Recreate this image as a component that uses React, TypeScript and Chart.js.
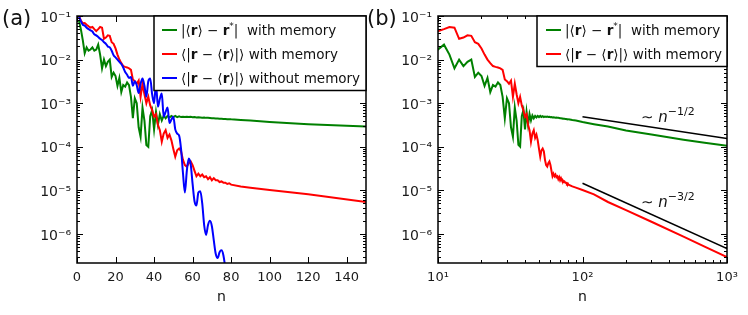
import React, { useEffect, useRef } from 'react';
import { Chart, registerables } from 'chart.js';
Chart.register(...registerables);

// ---------- data ----------
const nValues = [
  1, 2, 3, 4, 5, 6, 7, 8, 9, 10, 11, 12, 13, 14, 15, 16, 17, 18, 19, 20,
  21, 22, 23, 24, 25, 26, 27, 28, 29, 30, 31, 32, 33, 34, 35, 36, 37, 38, 39, 40,
  41, 42, 43, 44, 45, 46, 47, 48, 49, 50, 51, 52, 53, 54, 55, 56, 57, 58, 59, 60,
  61, 62, 63, 64, 65, 66, 67, 68, 69, 70, 71, 72, 73, 74, 75, 76, 77, 78, 79, 80,
  85, 90, 100, 120, 150, 200, 300, 500, 700, 1000,
];

const greenWithMemory = [
  0.079, 0.05, 0.028, 0.014, 0.019, 0.016, 0.017, 0.019, 0.016, 0.017,
  0.022, 0.013, 0.0063, 0.01, 0.0071, 0.0089, 0.01, 0.004, 0.005, 0.0042,
  0.0025, 0.0038, 0.0018, 0.0026, 0.0024, 0.003, 0.0026, 0.0014, 4.5e-4, 1.3e-3,
  1.0e-3, 2.8e-4, 1.7e-4, 7.9e-4, 4.0e-4, 1.1e-4, 1.0e-4, 5.0e-4, 6.9e-4, 2.5e-4,
  6.3e-4, 3.2e-4, 5.6e-4, 4.0e-4, 5.2e-4, 4.5e-4, 5.1e-4, 4.7e-4, 5.1e-4, 4.8e-4,
  5.1e-4, 4.8e-4, 5.0e-4, 4.8e-4, 4.9e-4, 4.8e-4, 4.9e-4, 4.8e-4, 4.85e-4, 4.75e-4,
  4.8e-4, 4.7e-4, 4.75e-4, 4.7e-4, 4.65e-4, 4.7e-4, 4.6e-4, 4.6e-4, 4.55e-4, 4.5e-4,
  4.5e-4, 4.45e-4, 4.45e-4, 4.4e-4, 4.4e-4, 4.35e-4, 4.35e-4, 4.3e-4, 4.3e-4, 4.25e-4,
  4.1e-4, 4.0e-4, 3.7e-4, 3.3e-4, 2.9e-4, 2.35e-4, 1.9e-4, 1.45e-4, 1.23e-4, 1.05e-4,
];

const redWithMemory = [
  0.1, 0.079, 0.068, 0.069, 0.063, 0.058, 0.054, 0.056, 0.05, 0.045,
  0.05, 0.056, 0.054, 0.03, 0.032, 0.036, 0.035, 0.025, 0.023, 0.018,
  0.013, 0.01, 0.0083, 0.0071, 0.0068, 0.0066, 0.0063, 0.0058, 0.0035, 0.0032,
  0.0028, 0.0033, 0.0014, 0.0028, 0.0016, 0.001, 0.0014, 8.9e-4, 6.9e-4, 4.9e-4,
  5.6e-4, 3.2e-4, 2.4e-4, 1.3e-4, 2.0e-4, 2.4e-4, 1.6e-4, 1.9e-4, 1.4e-4, 8.9e-5,
  5.9e-5, 8.3e-5, 9.1e-5, 7.9e-5, 5.0e-5, 3.8e-5, 3.5e-5, 4.2e-5, 4.6e-5, 3.8e-5,
  2.8e-5, 2.1e-5, 2.4e-5, 2.1e-5, 2.3e-5, 2.0e-5, 2.1e-5, 1.8e-5, 2.0e-5, 1.7e-5,
  1.9e-5, 1.7e-5, 1.7e-5, 1.55e-5, 1.6e-5, 1.5e-5, 1.5e-5, 1.4e-5, 1.45e-5, 1.35e-5,
  1.23e-5, 1.15e-5, 1.02e-5, 8.1e-6, 5.4e-6, 3.5e-6, 1.9e-6, 8.7e-7, 5.1e-7, 2.95e-7,
];

const blueWithoutMemory = [
  0.1, 0.076, 0.063, 0.06, 0.054, 0.05, 0.047, 0.044, 0.038, 0.036,
  0.033, 0.03, 0.028, 0.025, 0.023, 0.02, 0.019, 0.016, 0.0126, 0.0112,
  0.01, 0.0089, 0.0079, 0.0066, 0.0052, 0.0045, 0.0038, 0.004, 0.0025, 0.0032,
  0.0026, 0.0017, 0.0028, 0.0037, 0.0025, 0.0014, 0.0032, 0.0037, 0.0016, 0.001,
  0.0028, 8.3e-4, 1.26e-3, 1.66e-3, 4.9e-4, 6.3e-4, 7.9e-4, 3.5e-4, 4.2e-4, 4.9e-4,
  2.5e-4, 2.0e-4, 1.8e-4, 8.9e-5, 2.5e-5, 8.9e-6, 2.8e-5, 5.4e-5, 4.0e-5, 1.4e-5,
  5.6e-6, 4.5e-6, 8.9e-6, 9.5e-6, 5.0e-6, 1.6e-6, 9.5e-7, 1.6e-6, 2.0e-6, 1.5e-6,
  7.1e-7, 3.5e-7, 2.8e-7, 3.8e-7, 4.2e-7, 3.2e-7, 1.6e-7, 6.3e-8,
];

const refN = [100, 1000];
const refHalf = [4.9e-4, 1.55e-4];
const refThreeHalf = [1.45e-5, 4.6e-7];

const yTickValues = [1e-6, 1e-5, 1e-4, 1e-3, 1e-2, 1e-1];
const xTicksA = [0, 20, 40, 60, 80, 100, 120, 140];
const xTicksB = [10, 100, 1000];
const xMinorB = [20, 30, 40, 50, 60, 70, 80, 90, 200, 300, 400, 500, 600, 700, 800, 900];

// ---------- helpers ----------
const FONT = '"DejaVu Sans", sans-serif';
const SUP: Record<string, string> = {
  '-': '⁻', '0': '⁰', '1': '¹', '2': '²', '3': '³', '4': '⁴', '5': '⁵', '6': '⁶', '7': '⁷', '8': '⁸', '9': '⁹',
};
function sciLabel(v: number): string {
  const e = Math.round(Math.log10(v));
  return '10' + String(e).split('').map((c) => SUP[c] || c).join('');
}

type Seg = { t: string; bold?: boolean; italic?: boolean; sup?: boolean };
function drawRich(ctx: CanvasRenderingContext2D, segs: Seg[], x: number, y: number, size: number) {
  let cx = x;
  ctx.textBaseline = 'alphabetic';
  ctx.textAlign = 'left';
  for (const s of segs) {
    const fs = s.sup ? Math.round(size * 0.7) : size;
    ctx.font = `${s.italic ? 'italic ' : ''}${s.bold ? 'bold ' : ''}${fs}px ${FONT}`;
    ctx.fillText(s.t, cx, s.sup ? y - size * 0.45 : y);
    cx += ctx.measureText(s.t).width;
  }
}

const labelGreen: Seg[] = [
  { t: '|⟨' }, { t: 'r', bold: true }, { t: '⟩ − ' }, { t: 'r', bold: true }, { t: '*', sup: true }, { t: '|  with memory' },
];
const labelRed: Seg[] = [
  { t: '⟨|' }, { t: 'r', bold: true }, { t: ' − ⟨' }, { t: 'r', bold: true }, { t: '⟩|⟩ with memory' },
];
const labelBlue: Seg[] = [
  { t: '⟨|' }, { t: 'r', bold: true }, { t: ' − ⟨' }, { t: 'r', bold: true }, { t: '⟩|⟩ without memory' },
];

type PanelCfg = {
  id: string;
  width: number;
  left: number;
  right: number;
  xType: 'linear' | 'logarithmic';
  xMin: number;
  xMax: number;
  xTicks: number[];
  xMinor: number[];
  panelLabel: string;
  panelLabelX: number;
  legend: { x0: number; x1: number; y1: number; lineX0: number; lineX1: number; textX: number; rows: { y: number; color: string; segs: Seg[] }[] };
  annotations: { x: number; y: number; segs: Seg[] }[];
};

function framePlugin(cfg: PanelCfg) {
  return {
    id: 'frame' + cfg.id,
    afterDatasetsDraw(chart: any) {
      const ctx: CanvasRenderingContext2D = chart.ctx;
      const { left, right, top, bottom } = chart.chartArea;
      const xs = chart.scales.x;
      const ys = chart.scales.y;
      const seg = (x0: number, y0: number, x1: number, y1: number) => {
        ctx.beginPath();
        ctx.moveTo(x0, y0);
        ctx.lineTo(x1, y1);
        ctx.stroke();
      };
      ctx.save();
      ctx.strokeStyle = '#000';
      ctx.lineWidth = 1;
      // y ticks (inward, both sides)
      for (let k = -7; k <= -1; k++) {
        for (let m = 1; m <= 9; m++) {
          const v = m * Math.pow(10, k);
          if (v < ys.min * 0.9999 || v > ys.max * 1.0001) continue;
          const py = Math.round(ys.getPixelForValue(v)) + 0.5;
          const len = m === 1 ? 6 : 3;
          seg(left, py, left + len, py);
          seg(right, py, right - len, py);
        }
      }
      // x ticks
      for (const v of cfg.xTicks) {
        const px = Math.round(xs.getPixelForValue(v)) + 0.5;
        seg(px, bottom, px, bottom - 6);
        seg(px, top, px, top + 6);
      }
      for (const v of cfg.xMinor) {
        const px = Math.round(xs.getPixelForValue(v)) + 0.5;
        seg(px, bottom, px, bottom - 3);
        seg(px, top, px, top + 3);
      }
      // frame
      ctx.lineWidth = 1.5;
      ctx.strokeRect(left, top, right - left, bottom - top);

      // legend
      const lg = cfg.legend;
      ctx.fillStyle = '#fff';
      ctx.fillRect(lg.x0, top, lg.x1 - lg.x0, lg.y1 - top);
      ctx.lineWidth = 1.5;
      ctx.strokeStyle = '#000';
      ctx.strokeRect(lg.x0, top, lg.x1 - lg.x0, lg.y1 - top);
      for (const row of lg.rows) {
        ctx.strokeStyle = row.color;
        ctx.lineWidth = 2;
        seg(lg.lineX0, row.y, lg.lineX1, row.y);
        ctx.fillStyle = '#111';
        drawRich(ctx, row.segs, lg.textX, row.y + 5, 13.5);
      }

      // annotations
      ctx.fillStyle = '#111';
      for (const a of cfg.annotations) drawRich(ctx, a.segs, a.x, a.y, 15);

      // panel label
      ctx.fillStyle = '#111';
      ctx.font = `21px ${FONT}`;
      ctx.textBaseline = 'middle';
      ctx.textAlign = 'left';
      ctx.fillText(cfg.panelLabel, cfg.panelLabelX, 20);

      // axis title
      ctx.font = `14px ${FONT}`;
      ctx.textAlign = 'center';
      ctx.fillText('n', (left + right) / 2, 297);
      ctx.restore();
    },
  };
}

function makeChart(canvas: HTMLCanvasElement, cfg: PanelCfg, datasets: any[]) {
  return new Chart(canvas, {
    type: 'line',
    data: { datasets },
    options: {
      responsive: false,
      animation: false,
      layout: { padding: { top: 16, right: cfg.width - cfg.right, left: 0, bottom: 0 } },
      plugins: { legend: { display: false }, tooltip: { enabled: false } },
      elements: { point: { radius: 0 } },
      scales: {
        x: {
          type: cfg.xType,
          min: cfg.xMin,
          max: cfg.xMax,
          grid: { display: false, drawTicks: false },
          border: { display: false },
          afterBuildTicks: (s: any) => {
            s.ticks = cfg.xTicks.map((v) => ({ value: v }));
          },
          afterFit: (s: any) => {
            s.height = 52;
          },
          ticks: {
            autoSkip: false,
            maxRotation: 0,
            padding: 7,
            color: '#1a1a1a',
            font: { family: FONT, size: 13 },
            callback: (v: any) => (cfg.xType === 'logarithmic' ? sciLabel(Number(v)) : String(v)),
          },
        },
        y: {
          type: 'logarithmic',
          min: 2.15e-7,
          max: 0.1,
          grid: { display: false, drawTicks: false },
          border: { display: false },
          afterBuildTicks: (s: any) => {
            s.ticks = yTickValues.map((v) => ({ value: v }));
          },
          afterFit: (s: any) => {
            s.width = cfg.left;
          },
          ticks: {
            autoSkip: false,
            padding: 6,
            labelOffset: 2,
            color: '#1a1a1a',
            font: { family: FONT, size: 14 },
            callback: (v: any) => sciLabel(Number(v)),
          },
        },
      },
    } as any,
    plugins: [framePlugin(cfg)],
  });
}

const pts = (xs: number[], ys: number[]) => ys.map((y, i) => ({ x: xs[i], y }));

const cfgA: PanelCfg = {
  id: 'a',
  width: 374,
  left: 77,
  right: 366,
  xType: 'linear',
  xMin: 0,
  xMax: 150,
  xTicks: xTicksA,
  xMinor: [],
  panelLabel: '(a)',
  panelLabelX: 2,
  legend: {
    x0: 154, x1: 366, y1: 90.5, lineX0: 162, lineX1: 177, textX: 181,
    rows: [
      { y: 30, color: '#008000', segs: labelGreen },
      { y: 54, color: '#ff0000', segs: labelRed },
      { y: 78, color: '#0000ff', segs: labelBlue },
    ],
  },
  annotations: [],
};

const cfgB: PanelCfg = {
  id: 'b',
  width: 388,
  left: 78,
  right: 367,
  xType: 'logarithmic',
  xMin: 10,
  xMax: 1000,
  xTicks: xTicksB,
  xMinor: xMinorB,
  panelLabel: '(b)',
  panelLabelX: 7,
  legend: {
    x0: 177, x1: 367, y1: 66.5, lineX0: 186, lineX1: 201, textX: 205,
    rows: [
      { y: 30, color: '#008000', segs: labelGreen },
      { y: 54, color: '#ff0000', segs: labelRed },
    ],
  },
  annotations: [
    { x: 281, y: 122, segs: [{ t: '∼ ' }, { t: 'n', italic: true }, { t: '−1/2', sup: true }] },
    { x: 281, y: 207, segs: [{ t: '∼ ' }, { t: 'n', italic: true }, { t: '−3/2', sup: true }] },
  ],
};

export default function App() {
  const refA = useRef<HTMLCanvasElement>(null);
  const refB = useRef<HTMLCanvasElement>(null);

  useEffect(() => {
    const line = (color: string, data: any[], order: number, extra: any = {}) => ({
      data,
      borderColor: color,
      backgroundColor: color,
      borderWidth: 2,
      pointRadius: 0,
      fill: false,
      order,
      ...extra,
    });
    const a = makeChart(refA.current!, cfgA, [
      line('#008000', pts(nValues, greenWithMemory), 3),
      line('#ff0000', pts(nValues, redWithMemory), 2),
      line('#0000ff', pts(nValues, blueWithoutMemory), 1, { cubicInterpolationMode: 'monotone' }),
    ]);
    const b = makeChart(refB.current!, cfgB, [
      line('#008000', pts(nValues, greenWithMemory), 3),
      line('#ff0000', pts(nValues, redWithMemory), 2),
      line('#000000', pts(refN, refHalf), 1, { borderWidth: 1.5 }),
      line('#000000', pts(refN, refThreeHalf), 1, { borderWidth: 1.5 }),
    ]);
    return () => {
      a.destroy();
      b.destroy();
    };
  }, []);

  return (
    <div style={{ position: 'absolute', left: 0, top: 0, width: 748, height: 315, background: '#fff' }}>
      <canvas ref={refA} width={374} height={315} style={{ position: 'absolute', left: 0, top: 0 }} />
      <canvas ref={refB} width={388} height={315} style={{ position: 'absolute', left: 360, top: 0 }} />
    </div>
  );
}
